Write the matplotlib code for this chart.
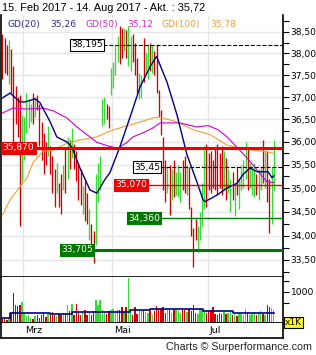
import matplotlib
matplotlib.use('Agg')
import matplotlib.pyplot as plt
from matplotlib.ticker import FixedLocator, FuncFormatter, NullFormatter
import numpy as np
import pandas as pd

plt.rcParams['font.family'] = 'DejaVu Sans'
plt.rcParams['font.size'] = 6.6

# trading days 15 Feb - 14 Aug 2017 (Euronext holidays removed)
days = pd.bdate_range('2017-02-15', '2017-08-14')
days = days[~days.isin(pd.to_datetime(['2017-04-14', '2017-04-17', '2017-05-01']))]

low = [37.40, 37.55, 37.50, 37.30, 37.10, 35.90, 36.40, 36.10, 34.20, 35.15,
       35.60, 36.20, 36.30, 36.45, 36.40, 36.55, 36.70, 35.90, 35.60, 35.30,
       35.50, 35.70, 35.30, 34.90, 34.60, 34.90, 34.60, 34.45, 34.95, 34.90,
       35.20, 35.40, 35.65, 35.40, 35.15, 34.75, 34.65, 34.45, 34.30, 34.25,
       33.90, 33.75, 33.43, 33.80, 34.70, 34.95, 36.35, 36.40, 36.50, 36.30,
       37.05, 37.20, 37.50, 37.80, 37.75, 37.90, 38.05, 37.90, 37.70, 37.60,
       37.80, 37.50, 37.10, 36.95, 36.98, 37.35, 37.55, 37.40, 37.60, 37.55,
       37.50, 37.10, 36.55, 36.15, 34.95, 34.70, 34.90, 34.43, 34.75, 34.80,
       34.85, 34.80, 34.70, 34.95, 34.90, 34.85, 34.55, 34.00, 33.36, 33.90,
       33.65, 33.90, 34.20, 34.55, 34.60, 34.95, 34.90, 35.00, 34.95, 34.85,
       35.00, 34.85, 34.95, 34.75, 34.90, 34.50, 34.75, 34.40, 34.85, 34.55,
       34.95, 35.00, 35.20, 34.95, 35.00, 34.85, 34.80, 34.85, 34.75, 34.95,
       35.10, 35.00, 34.70, 34.05, 34.25, 34.95]
high = [38.45, 38.35, 38.20, 38.30, 38.10, 37.70, 37.25, 37.00, 37.05, 36.60,
        36.55, 37.10, 36.95, 36.85, 37.10, 37.00, 37.05, 36.85, 36.45, 36.20,
        36.00, 36.35, 35.90, 35.70, 35.40, 35.55, 35.10, 35.30, 35.50, 35.85,
        36.10, 36.05, 36.30, 35.95, 35.80, 35.55, 35.40, 35.05, 35.15, 34.90,
        34.55, 34.25, 34.10, 35.30, 35.55, 35.70, 36.95, 37.00, 36.85, 36.80,
        37.65, 37.80, 38.20, 38.40, 38.65, 38.60, 38.60, 38.55, 38.65, 38.40,
        38.45, 38.25, 37.90, 37.55, 37.50, 38.35, 38.00, 38.20, 38.25, 38.20,
        38.05, 38.20, 37.15, 36.70, 36.10, 35.60, 35.45, 35.50, 35.40, 35.60,
        35.35, 35.50, 35.35, 35.60, 35.70, 35.50, 35.45, 34.60, 34.15, 34.35,
        34.20, 34.50, 35.10, 35.90, 35.95, 35.75, 35.80, 35.60, 35.85, 35.95,
        35.75, 35.90, 35.80, 35.65, 35.40, 35.20, 35.35, 35.10, 35.45, 35.20,
        35.50, 35.60, 36.00, 35.85, 35.55, 35.45, 35.55, 35.30, 35.40, 35.45,
        36.05, 35.80, 35.80, 35.20, 35.45, 36.05]
direction = ("rrrgrrrrrg" "ggggrgrrrr" "rgrrrgrrgr" "grgrrrrgrr" "grrgggggrr"
             "ggggrrgrgg" "rrrggrggrg" "rrrrrrgrgr" "gggrrgrrrr" "ggggrrrrrr"
             "rrgrggrgrg" "gggrgggrgg" "rgrrgg")
volume = [380, 420, 360, 400, 520, 975, 700, 690, 700, 770,
          520, 450, 480, 420, 380, 450, 470, 410, 480, 520,
          430, 500, 470, 550, 470, 460, 510, 480, 490, 520,
          700, 560, 720, 480, 730, 520, 470, 540, 600, 470,
          520, 480, 560, 820, 700, 820, 600, 540, 500, 560,
          590, 620, 520, 580, 600, 650, 540, 650, 1320, 560,
          480, 650, 500, 560, 600, 570, 540, 520, 560, 480,
          560, 680, 640, 620, 650, 530, 580, 600, 520, 580,
          600, 560, 520, 600, 580, 540, 620, 560, 700, 520,
          500, 600, 580, 560, 520, 560, 580, 660, 500, 480,
          520, 500, 540, 500, 520, 540, 480, 500, 460, 520,
          500, 480, 620, 520, 470, 500, 540, 480, 520, 560,
          500, 470, 700, 660, 640, 580]

# moving averages (day index, value)
gd20_day = [0, 3.5, 8, 10.5, 15, 17.3, 22, 25, 30, 32, 35.7, 40.3, 43.5, 47, 49.5,
            54, 58.8, 63.4, 68, 71, 75.8, 80.4, 85, 89.6, 92.4, 93.3, 98.8,
            103.5, 108, 111, 114.1, 117.3, 122.4, 124.2, 125]
gd20 = [36.98, 37.09, 36.89, 36.89, 36.96, 36.87, 36.44, 36.11, 35.99, 35.88, 35.43,
        34.96, 34.89, 35.17, 35.33, 35.88, 36.55, 37.23, 37.69, 37.93, 37.34, 36.60,
        35.72, 35.13, 34.75, 34.71, 34.85, 35.00, 35.10, 35.30, 35.43, 35.35, 35.35,
        35.22, 35.26]
gd50_day = [0, 4.8, 11.3, 18.7, 23.3, 29.7, 34.3, 38.9, 43.5, 49.5, 53.2, 57.4,
            60.1, 64.7, 69.4, 72.6, 81.8, 89.6, 94.7, 99.3, 103.5, 108, 112.7,
            117.3, 121.9, 125]
gd50 = [36.64, 36.75, 36.73, 36.75, 36.69, 36.53, 36.33, 36.16, 35.99, 35.90, 35.86,
        35.99, 36.11, 36.20, 36.31, 36.42, 36.42, 36.33, 36.36, 36.27, 36.11, 35.88,
        35.65, 35.39, 35.13, 35.12]
gd100_day = [0, 3.5, 8.1, 11.3, 14.1, 18.7, 23.3, 29.7, 35.7, 43.5, 49.5, 55.5,
             63.4, 69.4, 72.6, 80.4, 87.8, 95.6, 103.5, 109.4, 115.4, 121.9, 125]
gd100 = [34.43, 34.75, 35.03, 35.22, 35.55, 35.80, 35.82, 35.97, 36.04, 36.11, 36.24,
         36.33, 36.44, 36.53, 36.55, 36.44, 36.27, 36.16, 35.93, 35.86, 35.82, 35.78,
         35.75]
vol_avg_day = [0, 3.5, 21.9, 32, 48.2, 58.8, 68, 92.4, 106.2, 118.7, 125]
vol_avg = [410, 512, 490, 535, 553, 590, 606, 568, 530, 516, 516]

levels = [38.195, 35.87, 35.45, 35.07, 34.36, 33.705]
level_text = ['38,195', '35,870', '35,45', '35,070', '34,360', '33,705']
level_start = [46.3, -0.7, 72.6, 66.6, 72.6, 41.7]
level_color = ['black', '#ee0000', 'black', '#ee0000', '#007700', '#007700']
level_lw = [0.8, 2.2, 0.8, 1.0, 1.0, 2.2]
level_ls = ['--', '-', '--', '-', '-', '-']
level_box = ['white', '#ee0000', 'white', '#ee0000', '#007700', '#007700']
level_fg = ['black', 'white', 'black', 'white', 'white', 'white']

months = ['Mrz', 'Mai', 'Jul']
month_start = [days.get_loc(days[days >= d][0]) for d in ['2017-03-01', '2017-05-01', '2017-07-01']]

W, H = 316, 355
fig = plt.figure(figsize=(W / 100, H / 100), dpi=100)

def box(x0, y0, x1, y1):
    return [x0 / W, 1 - y1 / H, (x1 - x0) / W, (y1 - y0) / H]

ax = fig.add_axes(box(1, 15, 283, 277))
axv = fig.add_axes(box(1, 277, 283, 323))
axm = fig.add_axes(box(1, 323, 283, 338))

idx = np.arange(len(low))
cols = ['#33dd33' if c == 'g' else '#d00000' for c in direction]
xlim = (-0.69, 129.26)

# price panel
ax.set_yscale('log')
ax.set_xlim(xlim)
ax.set_ylim(33.15, 38.90)
major = np.arange(33.5, 38.51, 0.5)
minor = np.arange(33.25, 38.76, 0.25)
for m in major:
    ax.axhline(m, color='#e6e6e6', lw=1, zorder=0)
for s in month_start:
    ax.axvline(s - 0.5, color='#e6e6e6', lw=1, zorder=0)
ax.vlines(idx, low, high, colors=cols, lw=0.95, zorder=2)
ax.plot(gd100_day, gd100, color='#f0a030', lw=0.8, zorder=3)
ax.plot(gd50_day, gd50, color='#cc00cc', lw=0.8, zorder=3)
ax.plot(gd20_day, gd20, color='#000080', lw=1.0, zorder=3)
for lv, tx, st, c, lw, ls, bc, fc in zip(levels, level_text, level_start, level_color,
                                         level_lw, level_ls, level_box, level_fg):
    ax.hlines(lv, st, xlim[1], colors=c, lw=lw, linestyles=ls, zorder=4)
    ha = 'left' if st < 0 else 'right'
    xt = 0 if st < 0 else st
    ax.text(xt, lv, tx, ha=ha, va='center', color=fc, fontsize=6.6, zorder=5,
            bbox=dict(boxstyle='square,pad=0.15', fc=bc, ec='black' if bc == 'white' else bc, lw=0.8))

ax.yaxis.tick_right()
ax.yaxis.set_major_locator(FixedLocator(major))
ax.yaxis.set_minor_locator(FixedLocator(minor))
ax.yaxis.set_major_formatter(FuncFormatter(lambda v, p: f'{v:.2f}'.replace('.', ',')))
ax.yaxis.set_minor_formatter(NullFormatter())
ax.tick_params(axis='y', which='both', length=4, width=0.8, pad=1.5, labelsize=6.6)
ax.set_xticks([])
ax.spines['top'].set_visible(False)
for sp in ['left', 'right', 'bottom']:
    ax.spines[sp].set_linewidth(1.2)

# volume panel
axv.set_xlim(xlim)
axv.set_ylim(295, 1341)
for s in month_start:
    axv.axvline(s - 0.5, color='#e6e6e6', lw=1, zorder=0)
axv.bar(idx, volume, width=0.65, color=cols, zorder=2)
axv.step(vol_avg_day, vol_avg, where='post', color='#000080', lw=1.2, zorder=3)
axv.yaxis.tick_right()
axv.set_yticks([750, 1000, 1250])
axv.set_yticklabels(['', '1000', ''])
axv.tick_params(axis='y', length=4, width=0.8, pad=1.5, labelsize=6.6)
axv.set_xticks([])
axv.spines['top'].set_visible(False)
for sp in ['left', 'right']:
    axv.spines[sp].set_linewidth(1.2)
axv.spines['bottom'].set_linewidth(2)

# month strip
axm.set_xlim(xlim)
axm.set_ylim(0, 1)
axm.set_xticks([])
axm.set_yticks([])
axm.spines['top'].set_visible(False)
for sp in ['left', 'right', 'bottom']:
    axm.spines[sp].set_linewidth(1.2)
for s, m in zip(month_start, months):
    axm.text(s + 0.5, 0.5, m, ha='left', va='center', fontsize=6.8)

# header and legend
fig.text(2 / W, 1 - 8 / H, '15. Feb 2017 - 14. Aug 2017 - Akt. : 35,72', ha='left', va='center',
         fontsize=7.9, family='Liberation Sans')
legend = [('GD(20)', 8, '#2b2b9b'), ('35,26', 50, '#2b2b9b'), ('GD(50)', 85, '#cc33cc'),
          ('35,12', 127, '#cc33cc'), ('GD(100)', 162, '#f0a040'), ('35,78', 210, '#f0a040')]
for t, xp, c in legend:
    fig.text(xp / W, 1 - 24 / H, t, ha='left', va='center', color=c, fontsize=6.6)

fig.text(285 / W, 1 - 322.5 / H, 'x1K', ha='left', va='center', fontsize=6.6,
         bbox=dict(boxstyle='square,pad=0.15', fc='#ffff00', ec='black', lw=0.8))
fig.text(166 / W, 1 - 347 / H, 'Charts \u00a9 Surperformance.com', ha='left', va='center',
         fontsize=7.7, family='Liberation Sans', color='#222222')

fig.savefig('out.png', dpi=100)
